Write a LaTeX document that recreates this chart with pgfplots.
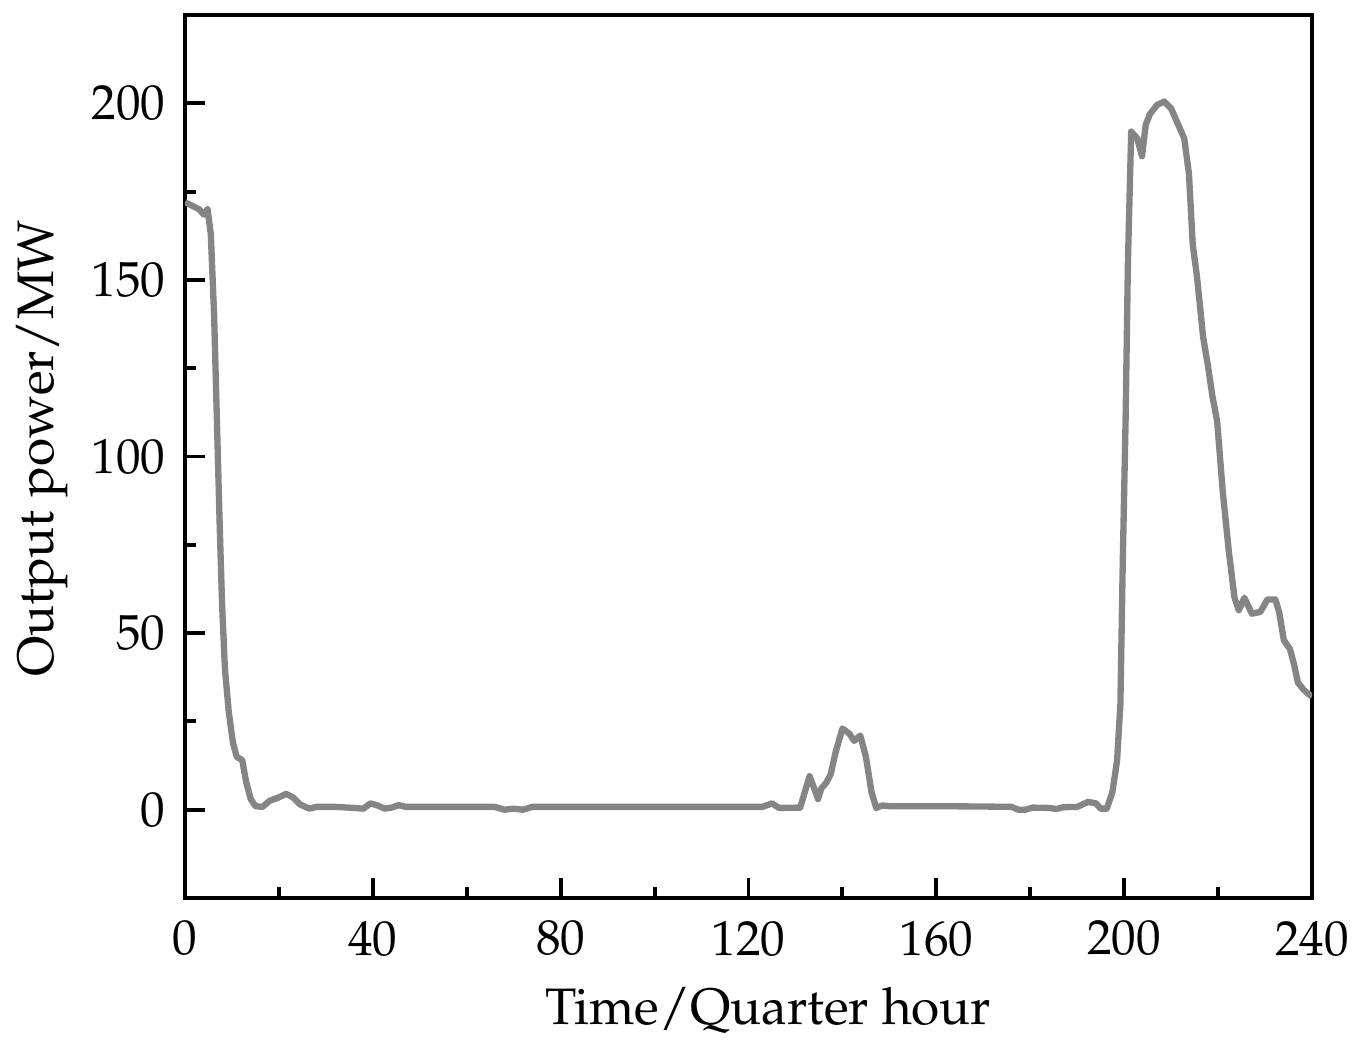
\documentclass[border=0pt]{standalone}
\usepackage[T1]{fontenc}
\usepackage{mathpazo}
\usepackage{pgfplots}
\pgfplotsset{compat=1.18}
\usetikzlibrary{calc}
\definecolor{trace}{HTML}{858585}

\begin{document}
\begin{tikzpicture}
\begin{axis}[
  width=11.27cm,height=8.83cm,scale only axis,
  xmin=0,xmax=240,ymin=-25,ymax=225,
  xtick={0,40,...,240},ytick={0,50,...,200},
  minor x tick num=1,minor y tick num=1,
  tick align=inside,tick pos=left,
  major tick length=0.2cm,minor tick length=0.11cm,
  axis line style={line width=1.1pt},
  every tick/.style={black,line width=1.1pt},
  tick label style={font=\fontsize{14}{16}\selectfont},
  xticklabel style={yshift=-3pt},
  yticklabel style={xshift=-2pt},
  label style={font=\fontsize{14.6}{17}\selectfont},
  xlabel={Time/Quarter hour},ylabel={Output power/MW},
  xlabel style={yshift=-2pt,xshift=0.2cm},
  ylabel style={yshift=0pt,xshift=0.08cm},
]
\addplot[trace,line width=1.8pt,line join=round] coordinates {
(0,172) (1.5,171) (3,170) (4,168.5) (4.8,170) (5.5,163) (6.2,140) (6.8,110)
(7.4,80) (7.9,58) (8.5,40) (9.3,28) (10.2,19) (11,15) (12.2,14) (13,8) (14,3)
(15,1) (16.5,0.8) (18,2.5) (20,3.5) (21.5,4.5) (23,3.5) (24.5,1.5) (26.5,0.3)
(28,0.8) (32,0.8) (36,0.5) (38,0.3) (39.5,1.8) (41,1.2) (42.5,0.3) (44,0.6)
(45.5,1.3) (47,0.8) (55,0.8) (66,0.8) (68,0) (70,0.3) (72,0) (74,0.8) (90,0.8)
(110,0.8) (123,0.8) (125,1.8) (126.5,0.5) (131,0.6) (132,5) (133,9.5) (134,6)
(134.8,3) (135.5,6) (136.5,7.5) (137.5,10) (138.5,16) (140,23) (141.5,21.5)
(142.5,19.5) (143.8,21) (145,15) (146.2,5) (147.2,0.5) (148.5,1.2) (150,1)
(160,1) (170,0.9) (176,0.8) (177.5,0) (179,0) (180.5,0.6) (184,0.5) (185.5,0.2)
(187,0.7) (190,0.8) (192.3,2.2) (194,1.8) (195,0.3) (196.3,0.3) (197.5,5)
(198.5,14) (199.2,30) (199.7,70) (200.3,110) (200.8,155) (201.5,192) (202.8,190)
(203.8,185) (204.6,194) (205.5,197) (207,199.5) (208.5,200.5) (210,198.5)
(211.5,194) (212.8,190) (213.8,180) (214.6,160) (215.5,151) (216.8,134)
(217.8,126) (218.8,117) (219.8,110) (221,90) (222.3,73) (223.5,60) (224.4,56.5)
(225.6,60) (227.2,55.5) (229,56) (230.5,59.5) (232.2,59.5) (233,56) (234,48)
(235.3,45.5) (236.2,41) (237,36) (238.2,34) (239,33) (240,32)
};
\end{axis}
\pgfresetboundingbox
\useasboundingbox ($(current axis.south west)+(-1.85cm,-1.52cm)$) rectangle ($(current axis.north east)+(0.5cm,0.15cm)$);
\end{tikzpicture}
\end{document}
